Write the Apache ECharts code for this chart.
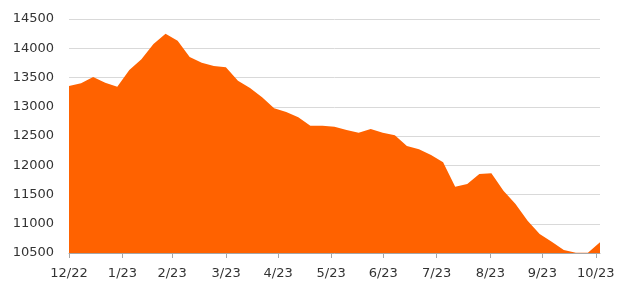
<!DOCTYPE html>
<html>
<head>
<meta charset="utf-8">
<script src="https://cdn.jsdelivr.net/npm/echarts@6/dist/echarts.min.js"></script>
<style>
html,body{margin:0;padding:0;background:#fff;}
#chart{width:640px;height:295px;}
</style>
</head>
<body>
<div id="chart"></div>
<script>
// Weekly values (week index 0 = start of Dec 2022)
const values = [
  13355, 13400, 13509, 13411, 13343, 13628, 13811, 14073, 14249, 14129,
  13851, 13753, 13697, 13674, 13446, 13321, 13161, 12973, 12911, 12820,
  12677, 12677, 12660, 12603, 12557, 12620, 12557, 12512, 12330, 12273,
  12176, 12051, 11634, 11680, 11850, 11862, 11566, 11338, 11053, 10826,
  10694, 10552, 10505, 10505, 10683
];
// Month tick labels and their positions on the week scale
const tickLabels = ['12/22','1/23','2/23','3/23','4/23','5/23','6/23','7/23','8/23','9/23','10/23'];
const tickWeeks = [0, 4.43, 8.54, 13.02, 17.33, 21.72, 26.04, 30.46, 34.91, 39.22, 43.65];
const yTicks = [10500, 11000, 11500, 12000, 12500, 13000, 13500, 14000, 14500];

const seriesData = values.map((v, i) => [i, v]);
const labelMap = {};
tickWeeks.forEach((w, i) => { labelMap[w] = tickLabels[i]; });

const chart = echarts.init(document.getElementById('chart'), null, {renderer: 'canvas'});
chart.setOption({
  animation: false,
  grid: {left: 69, right: 40, top: 19, bottom: 42, containLabel: false},
  xAxis: {
    type: 'value',
    min: 0,
    max: values.length - 1,
    axisLine: {show: true, lineStyle: {color: '#a6a6a6', width: 1}},
    axisTick: {show: true, length: 5, customValues: tickWeeks, lineStyle: {color: '#a6a6a6'}},
    axisLabel: {
      customValues: tickWeeks,
      formatter: (v) => labelMap[v] !== undefined ? labelMap[v] : '',
      fontFamily: 'DejaVu Sans',
      fontSize: 13,
      color: '#333',
      margin: 14,
      showMinLabel: true,
      showMaxLabel: true
    },
    splitLine: {show: false}
  },
  yAxis: {
    type: 'value',
    min: yTicks[0],
    max: yTicks[yTicks.length - 1],
    interval: 500,
    axisLine: {show: false},
    axisTick: {show: false},
    axisLabel: {
      formatter: (v) => String(v),
      fontFamily: 'DejaVu Sans', fontSize: 13, color: '#333', margin: 15
    },
    splitLine: {show: true, lineStyle: {color: '#d9d9d9', width: 1}}
  },
  series: [{
    type: 'line',
    data: seriesData,
    showSymbol: false,
    lineStyle: {width: 0},
    areaStyle: {color: '#FF6200', opacity: 1, origin: 'start'},
    z: 3
  }]
});
</script>
</body>
</html>
